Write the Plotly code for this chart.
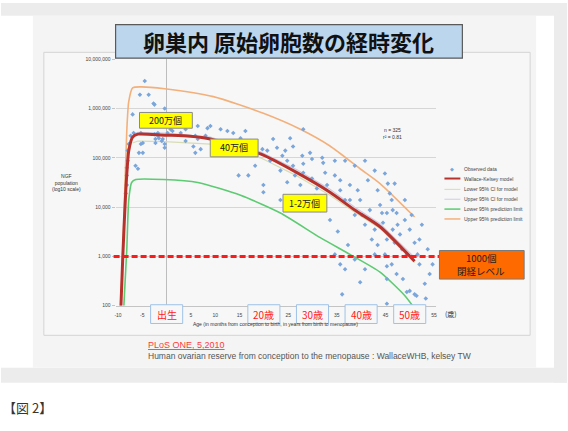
import plotly.graph_objects as go

W, H = 568, 431

# ---------------- data ----------------
obs_age = [-4.5, -5.5, -3.7, -2.5, -0.4, -7.0, -6.8, -7.4, -7.8, -8.0, -8.0, -8.2, -5.9, -5.7, -5.3, -4.9,
           -2.3, -1.6, -1.0, -0.4, -0.4, 0.2, 1.2, -1.8, -2.5, -5.3, 5.9, 5.9, -8.2, -8.2, -8.4, -2.7,
           6.4, 8.4, 9.0, 12.5, 13.7, 6.4, 5.5, 7.0, 10.5, 13.1, 14.5, 15.2, 19.7, 20.7, 21.9, 22.7,
           25.4, 26.0, 28.1, 27.9, 29.5, 29.9, 32.0, 32.2, 32.6, 24.8, 26.0, 28.1, 28.1, 14.8, 16.8,
           19.9, 19.9, 24.8, 27.5, 29.9, 30.9, 33.0, -4.9, -6.4, -1.8, -0.8, 0.8, -2.3,
           44.9, 45.5, 45.9, 46.3, 45.3, 46.5, 47.3, 44.5, 46.5, 48.0, 45.3, 46.9, 48.4, 51.0, 49.4,
           45.3, 46.3, 47.3, 45.3, 48.6, 50.0, 51.4, 44.3, 36.1, 49.4, 51.0, 45.3,
           34.6, 35.7, 36.7, 37.7, 38.7, 39.8, 40.8, 41.8, 42.2, 37.3, 38.7, 40.8, 42.8, 35.2, 39.8,
           43.4, 42.8, 40.8, 38.7, 36.7, 52.0, 53.7, 54.1, 53.1, 23.4, 31.6, 33.6, 18.2, 10.0, 2.9,
           3.9, 17.2, 23.8, 46.9, 49.0, 50.0, 52.0, 35.7, 30.5, 28.5,
           2.5, 3.9, 8.0, 11.1, 12.1, 16.2, 18.2, 21.3, 23.4, 24.4, 26.4,
           34.6, 35.7, 37.7, 39.3, 40.2, 41.4, 42.8, 43.9, 43.4, 44.9, 36.7, 34.6,
           47.5, 49.0, 50.4, 51.6, 52.5, 53.3, 54.7]
obs_pop = [3.6e6, 1.9e6, 1.9e6, 1.2e6, 1.0e6, 7.6e5, 3.2e5, 2.8e5, 1.9e5, 1.4e5, 8.7e4, 6.3e4, 6.0e4, 1.26e5, 1.9e5, 2.0e5,
           2.4e5, 2.5e5, 2.2e5, 1.6e5, 1.9e5, 3.2e5, 3.5e5, 3.2e5, 3.0e5, 3.2e5, 2.8e5, 1.26e5, 4.4e4, 2.8e4, 1.9e4, 1.26e6,
           4.4e5, 4.0e5, 4.4e5, 3.5e5, 3.2e5, 2.4e5, 1.7e5, 1.5e5, 1.4e5, 1.5e5, 1.7e5, 2.5e5, 1.5e5, 1.4e5, 2.4e5, 1.6e5,
           2.5e5, 1.7e5, 3.8e5, 1.1e5, 1.26e5, 9.5e4, 1.0e5, 7.9e4, 5.0e4, 8.7e4, 6.9e4, 7.6e4, 5.0e4, 4.4e4, 4.4e4,
           2.8e4, 2.0e4, 3.2e4, 2.8e4, 3.8e4, 2.4e4, 2.8e4, 1.26e5, 6.9e4, 2.8e5, 2.4e5, 3.8e5, 2.0e5,
           4.8e4, 3.0e4, 1.9e4, 1.4e4, 7.6e3, 8.7e3, 7.6e3, 4.8e3, 3.5e3, 2.8e3, 2.2e3, 1.9e3, 1.4e3, 1.9e3, 1.1e3,
           630, 690, 440, 350, 350, 200, 160, 7.6e3, 170, 190, 170, 110,
           4.4e4, 2.2e4, 1.4e4, 2.8e4, 6.9e3, 1.4e4, 4.4e3, 8.7e3, 2.2e3, 1.7e3, 870, 550, 1.1e3, 3.2e3, 300,
           2.2e4, 5.5e4, 8.7e4, 6.9e4, 8.7e4, 690, 1.4e3, 440, 280, 1.4e4, 8.7e3, 5.5e3, 6.9e4, 2.2e5, 3.2e5,
           2.2e5, 2.2e5, 1.1e5, 3.0e4, 5.5e3, 3.5e3, 2.2e3, 690, 1.7e4, 1.4e4,
           4.4e5, 3.8e5, 2.8e5, 3.8e5, 2.2e5, 3.5e5, 1.7e5, 8.7e4, 5.5e4, 1.4e5, 4.4e4,
           8.7e4, 3.5e4, 1.4e4, 2.2e4, 6.9e3, 3.5e4, 3.5e3, 1.1e4, 1.7e3, 1.1e3, 550, 1.1e3,
           4.4e3, 1.4e4, 6.9e3, 1.1e3, 4.4e3, 140, 690]

model_age = [-9.4, -9.0, -8.4, -7.8, -7.0, -5.9, -0.4, 4.9, 9.0, 13.1, 19.3, 26.8, 33.6, 38.7, 43.9, 51.0]
model_pop = [100, 1100, 22000, 138000, 263000, 302000, 288000, 275000, 240000, 174000, 120000, 50000, 20000, 8700, 4000, 800]

ci_lo_age = [-7.0, -5.9, -0.4, 9.0, 13.1, 19.3, 26.8, 33.6, 38.7, 43.9, 51.0]
ci_lo_pop = [200000, 219000, 214000, 190000, 145000, 100000, 43000, 17500, 7900, 3700, 750]
ci_hi_age = [-7.0, -5.9, -0.4, 9.0, 13.1, 19.3, 26.8, 33.6, 38.7, 43.9, 51.0]
ci_hi_pop = [300000, 330000, 316000, 263000, 195000, 132000, 57000, 23000, 9900, 4600, 950]

upl_age = [-9.4, -8.8, -8.2, -7.8, -7.0, -5.3, -0.4, 9.6, 19.9, 27.5, 33.6, 39.8, 43.9, 51.0]
upl_pop = [100, 5500, 350000, 1380000, 2630000, 2750000, 2510000, 1740000, 800000, 380000, 174000, 60000, 30000, 6300]

lpl_age = [-8.8, -8.2, -7.8, -7.2, -6.35, -0.6, 6.4, 15.2, 23.4, 31.6, 37.7, 43.9, 49.0, 50.6]
lpl_pop = [100, 1380, 13800, 31600, 36300, 36300, 31600, 17400, 7600, 2400, 1100, 480, 160, 100]

menopause_level = 1000

y_tickvals = [100, 1000, 10000, 100000, 1000000, 10000000]
y_ticktext = ["100", "1,000", "10,000", "100,000", "1,000,000", "10,000,000"]
x_tickvals = [-10, -5, 5, 10, 15, 25, 35, 45, 55]
x_ticktext = ["-10", "-5", "5", "10", "15", "25", "35", "45", "55"]
age_label_vals = [0, 20, 30, 40, 50]
age_label_text = ["出生", "20歳", "30歳", "40歳", "50歳"]

legend_names = ["Observed data", "Wallace-Kelsey model", "Lower 95% CI for model",
                "Upper 95% CI for model", "Lower 95% prediction limit", "Upper 95% prediction limit"]

# ---------------- helpers ----------------
def fx(px):
    return px / W

def fy(py):
    return 1 - py / H

JP = "Noto Sans CJK JP"
EN = "Liberation Sans, Arial"

C_RED = "#b8322d"
C_ORANGE = "#f3b07a"
C_GREEN = "#5ccb72"
C_CILO = "#d7dcb4"
C_CIHI = "#cfcbe2"
C_BLUE = "#7aa6db"

fig = go.Figure()

fig.add_trace(go.Scatter(x=ci_lo_age, y=ci_lo_pop, mode="lines", line=dict(color=C_CILO, width=1.2), showlegend=False))
fig.add_trace(go.Scatter(x=ci_hi_age, y=ci_hi_pop, mode="lines", line=dict(color=C_CIHI, width=1.2), showlegend=False))
fig.add_trace(go.Scatter(x=upl_age, y=upl_pop, mode="lines", line=dict(color=C_ORANGE, width=1.6, shape="spline", smoothing=0.6), showlegend=False))
fig.add_trace(go.Scatter(x=lpl_age, y=lpl_pop, mode="lines", line=dict(color=C_GREEN, width=1.6, shape="spline", smoothing=0.6), showlegend=False))
fig.add_trace(go.Scatter(x=obs_age, y=obs_pop, mode="markers",
                         marker=dict(symbol="diamond", size=3.5, color=C_BLUE), showlegend=False))
fig.add_trace(go.Scatter(x=model_age, y=model_pop, mode="lines", line=dict(color=C_RED, width=3, shape="spline", smoothing=0.6), showlegend=False))

shapes = []
# background frames
shapes.append(dict(type="rect", xref="paper", yref="paper", x0=0, x1=1, y0=fy(13), y1=1,
                   fillcolor="#ececec", line=dict(width=0), layer="below"))
shapes.append(dict(type="rect", xref="paper", yref="paper", x0=0, x1=1, y0=fy(385), y1=fy(370),
                   fillcolor="#ececec", line=dict(width=0), layer="below"))
shapes.append(dict(type="rect", xref="paper", yref="paper", x0=fx(555), x1=1, y0=fy(385), y1=1,
                   fillcolor="#ececec", line=dict(width=0), layer="below"))
shapes.append(dict(type="rect", xref="paper", yref="paper", x0=fx(32), x1=fx(537), y0=fy(370), y1=fy(13),
                   fillcolor="#f4f4f4", line=dict(width=0), layer="below"))
shapes.append(dict(type="rect", xref="paper", yref="paper", x0=fx(43), x1=fx(531), y0=fy(337), y1=fy(50),
                   fillcolor="#f7f7f7", line=dict(color="#d4d4d4", width=1), layer="below"))
# title box
shapes.append(dict(type="rect", xref="paper", yref="paper", x0=fx(115), x1=fx(463), y0=fy(56), y1=fy(22),
                   fillcolor="#bcd6ee", line=dict(color="#5a5a5a", width=1.2)))
# dashed menopause line
shapes.append(dict(type="line", xref="paper", yref="y", x0=fx(113), x1=fx(440), y0=menopause_level, y1=menopause_level,
                   line=dict(color="#ff1a1a", width=3, dash="6px,3px")))
# orange box
shapes.append(dict(type="rect", xref="paper", yref="paper", x0=fx(440), x1=fx(525), y0=fy(280), y1=fy(251),
                   fillcolor="#ff6a00", line=dict(color="#7a7a7a", width=1)))
# yellow boxes
yboxes = [(139, 192, 111, 127, "200万個"), (210, 258, 138, 156, "40万個"), (283, 327, 194, 212, "1-2万個")]
for x0, x1, y0, y1, t in yboxes:
    shapes.append(dict(type="rect", xref="paper", yref="paper", x0=fx(x0), x1=fx(x1), y0=fy(y1), y1=fy(y0),
                       fillcolor="#ffff00", line=dict(color="#8a8a8a", width=1)))
# age label boxes
for v in age_label_vals:
    shapes.append(dict(type="rect", xref="x", yref="paper", x0=v - 3.3, x1=v + 3.3, y0=fy(325), y1=fy(306),
                       fillcolor="#f7f7f7", line=dict(color="#9fc2e6", width=1)))
# legend glyph lines
leg_y = [168, 178, 189, 199, 209, 219]
leg_cols = [None, C_RED, C_CILO, C_CIHI, C_GREEN, C_ORANGE]
leg_w = [0, 2, 1, 1, 1.5, 1.5]
for yy, c, w in zip(leg_y, leg_cols, leg_w):
    if c:
        shapes.append(dict(type="line", xref="paper", yref="paper", x0=fx(445), x1=fx(461), y0=fy(yy), y1=fy(yy),
                           line=dict(color=c, width=w)))

ann = []
ann.append(dict(text="<b>卵巣内 原始卵胞数の経時変化</b>", x=fx(289), y=fy(39), xref="paper", yref="paper",
                showarrow=False, font=dict(family=JP, size=22, color="#111111"), xanchor="center", yanchor="middle"))
for x0, x1, y0, y1, t in yboxes:
    ann.append(dict(text=t, x=fx((x0 + x1) / 2), y=fy((y0 + y1) / 2), xref="paper", yref="paper", showarrow=False,
                    font=dict(family=JP, size=9, color="#222222"), xanchor="center", yanchor="middle"))
ann.append(dict(text="1000個", x=fx(482), y=fy(259), xref="paper", yref="paper", showarrow=False,
                font=dict(family=JP, size=9.5, color="#222222"), xanchor="center", yanchor="middle"))
ann.append(dict(text="閉経レベル", x=fx(482), y=fy(272), xref="paper", yref="paper", showarrow=False,
                font=dict(family=JP, size=9.5, color="#222222"), xanchor="center", yanchor="middle"))
for v, t in zip(age_label_vals, age_label_text):
    ann.append(dict(text=t, x=v, y=fy(315.5), xref="x", yref="paper", showarrow=False,
                    font=dict(family=JP, size=10, color="#ff2020"), xanchor="center", yanchor="middle"))
ann.append(dict(text="(歳)", x=fx(452), y=fy(315), xref="paper", yref="paper", showarrow=False,
                font=dict(family=JP, size=7, color="#333333"), xanchor="center", yanchor="middle"))
ann.append(dict(text="n = 325<br>r² = 0.81", x=fx(393), y=fy(132), xref="paper", yref="paper", showarrow=False,
                font=dict(family=EN, size=5, color="#333333"), xanchor="center", yanchor="middle"))
ann.append(dict(text="NGF<br>population<br>(log10 scale)", x=fx(66), y=fy(182), xref="paper", yref="paper",
                showarrow=False, font=dict(family=EN, size=5, color="#333333"), xanchor="center", yanchor="middle"))
ann.append(dict(text="Age (in months from conception to birth, in years from birth to menopause)", x=fx(275), y=fy(326),
                xref="paper", yref="paper", showarrow=False, font=dict(family=EN, size=5, color="#333333"),
                xanchor="center", yanchor="middle"))
for yy, t in zip(leg_y, legend_names):
    ann.append(dict(text=t, x=fx(463), y=fy(yy), xref="paper", yref="paper", showarrow=False,
                    font=dict(family=EN, size=5, color="#444444"), xanchor="left", yanchor="middle"))
ann.append(dict(text="◆", x=fx(453), y=fy(168), xref="paper", yref="paper", showarrow=False,
                font=dict(family=EN, size=5, color=C_BLUE), xanchor="center", yanchor="middle"))
ann.append(dict(text="<u>PLoS ONE, 5,2010</u>", x=fx(146), y=fy(347), xref="paper", yref="paper", showarrow=False,
                font=dict(family=EN, size=9, color="#ff3b3b"), xanchor="left", yanchor="middle"))
ann.append(dict(text="Human ovarian reserve from conception to the menopause : WallaceWHB, kelsey TW", x=fx(146), y=fy(358),
                xref="paper", yref="paper", showarrow=False, font=dict(family=EN, size=8.5, color="#555555"),
                xanchor="left", yanchor="middle"))
ann.append(dict(text="【図 2】", x=fx(0), y=fy(410), xref="paper", yref="paper", showarrow=False,
                font=dict(family=JP, size=13, color="#3a3430"), xanchor="left", yanchor="middle"))

fig.update_layout(
    width=W, height=H, margin=dict(l=0, r=0, t=0, b=0),
    paper_bgcolor="white", plot_bgcolor="rgba(0,0,0,0)",
    showlegend=False, shapes=shapes, annotations=ann,
    xaxis=dict(domain=[fx(115), fx(437)], range=[-10.5, 55.5], tickvals=x_tickvals, ticktext=x_ticktext,
               showgrid=False, zeroline=True, zerolinecolor="#bdbdbd", zerolinewidth=1,
               showline=True, linecolor="#c4c4c4", linewidth=1, ticks="outside", ticklen=4,
               tickcolor="rgba(0,0,0,0)", tickfont=dict(family=EN, size=5, color="#444444")),
    yaxis=dict(domain=[fy(307), fy(57)], type="log", range=[2, 7], tickvals=y_tickvals, ticktext=y_ticktext,
               showgrid=True, gridcolor="#d6d6d6", gridwidth=1, zeroline=False, showline=False,
               ticks="outside", ticklen=3, tickcolor="#c4c4c4",
               tickfont=dict(family=EN, size=5, color="#444444")),
)

fig.write_html("out.html", config={"displayModeBar": False},
               post_script="document.body.style.margin='0';document.body.style.overflow='hidden';")
